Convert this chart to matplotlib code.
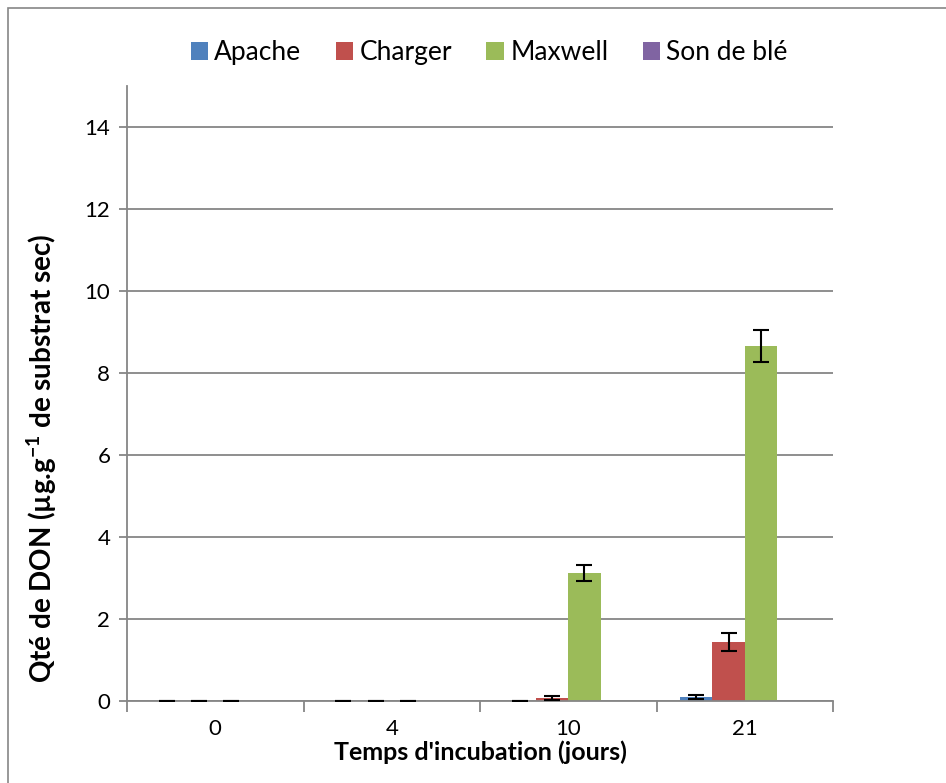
import numpy as np
import matplotlib.pyplot as plt
from matplotlib.patches import Rectangle

plt.rcParams['font.family'] = ['Lato', 'DejaVu Sans']
plt.rcParams['mathtext.fontset'] = 'custom'
plt.rcParams['mathtext.rm'] = 'Lato'
plt.rcParams['mathtext.bf'] = 'Lato:bold'

# DON content per cultivar and incubation day
days = ['0', '4', '10', '21']
series = ['Apache', 'Charger', 'Maxwell', 'Son de blé']
colors = ['#4F81BD', '#C0504D', '#9BBB59', '#8064A2']
apache = [0.0, 0.0, 0.0, 0.09]
charger = [0.0, 0.0, 0.07, 1.45]
maxwell = [0.0, 0.0, 3.12, 8.66]
son_de_ble = [0.0, 0.0, 0.0, 0.0]
apache_err = [0.0, 0.0, 0.0, 0.05]
charger_err = [0.0, 0.0, 0.05, 0.22]
maxwell_err = [0.0, 0.0, 0.2, 0.38]

values = [apache, charger, maxwell, son_de_ble]
errors = [apache_err, charger_err, maxwell_err, None]

fig = plt.figure(figsize=(9.46, 7.83), dpi=100)
ax = fig.add_axes([127 / 946, 1 - 701 / 783, 706 / 946, 615 / 783])

grey = '#868686'
x = np.arange(len(days))
w = 0.184
for i, (name, vals, err, c) in enumerate(zip(series, values, errors, colors)):
    pos = x + (i - 1.5) * w
    ax.bar(pos, vals, width=w, color=c, label=name, zorder=2)
    if err is not None:
        ax.errorbar(pos, vals, yerr=err, fmt='none', ecolor='black',
                    elinewidth=1.5, capsize=6, capthick=1.5, zorder=3)

ax.set_xlim(-0.5, 3.5)
ax.set_ylim(0, 15)
ax.set_yticks(np.arange(0, 15, 2))
ax.yaxis.grid(True, color=grey, linewidth=1.3, zorder=0)
ax.set_axisbelow(True)

ax.set_xticks(x)
ax.set_xticklabels(days)
ax.set_xticks(np.arange(-0.5, 4, 1), minor=True)
ax.tick_params(axis='x', which='major', length=0, pad=13, labelsize=16)
ax.tick_params(axis='x', which='minor', length=8, color=grey, width=1.3)
ax.tick_params(axis='y', length=6, color=grey, width=1.3, labelsize=16, pad=6)

for s in ['top', 'right']:
    ax.spines[s].set_visible(False)
for s in ['left', 'bottom']:
    ax.spines[s].set_color(grey)
    ax.spines[s].set_linewidth(1.3)

ax.set_xlabel("Temps d'incubation (jours)", fontsize=18, fontweight='bold', labelpad=1)
ax.set_ylabel(r'Qté de DON (µg.g$^{\mathbf{-1}}$ de substrat sec)', fontsize=20,
              fontweight='bold')
ax.yaxis.set_label_coords(-0.096, 0.395)

ax.legend(loc='upper center', bbox_to_anchor=(0.513, 1.113), ncol=4, frameon=False,
          fontsize=19, handlelength=0.65, handleheight=0.65, handletextpad=0.25,
          columnspacing=1.3)

# outer chart border
fig.patches.append(Rectangle((8 / 946, -0.01), 1.0, 1 - 8 / 783 + 0.01,
                             transform=fig.transFigure, fill=False,
                             edgecolor=grey, linewidth=1.2))

fig.savefig('out.png', dpi=100)
